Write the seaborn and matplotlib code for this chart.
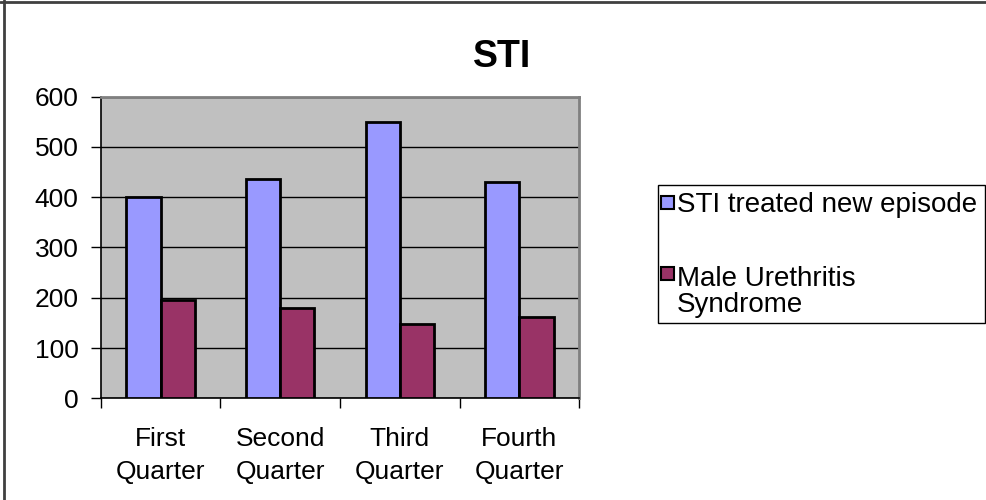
import matplotlib
matplotlib.use("Agg")
import matplotlib.pyplot as plt
import seaborn as sns
import pandas as pd
from matplotlib.patches import Rectangle
from matplotlib.lines import Line2D

# ---- data ----
categories = ["First Quarter", "Second Quarter", "Third Quarter", "Fourth Quarter"]
tick_labels = ["First\nQuarter", "Second\nQuarter", "Third\nQuarter", "Fourth\nQuarter"]
series_names = ["STI treated new episode", "Male Urethritis Syndrome"]
legend_labels = ["STI treated new episode", "Male Urethritis\nSyndrome"]
sti_values = [401, 436, 549, 430]
mus_values = [196, 179, 148, 161]
y_ticks = [0, 100, 200, 300, 400, 500, 600]
title = "STI"
colors = ["#9999FF", "#993366"]

sns.set_theme(style="white")
plt.rcParams["font.family"] = ["Liberation Sans", "DejaVu Sans"]
plt.rcParams["text.color"] = "black"
plt.rcParams["xtick.color"] = "black"
plt.rcParams["ytick.color"] = "black"
plt.rcParams["axes.labelcolor"] = "black"

df = pd.DataFrame({
    "Quarter": categories * 2,
    "Series": [series_names[0]] * len(categories) + [series_names[1]] * len(categories),
    "Value": sti_values + mus_values,
})

W, H = 986, 500
fig = plt.figure(figsize=(W / 100, H / 100), dpi=100)
fig.patch.set_facecolor("white")

L, R, T, B = 100.7, 579.3, 96.7, 398.3
ax = fig.add_axes([L / W, 1 - B / H, (R - L) / W, (B - T) / H])
sns.barplot(data=df, x="Quarter", y="Value", hue="Series", order=categories,
            hue_order=series_names, palette=colors, width=0.57, gap=0,
            edgecolor="black", linewidth=2, saturation=1, errorbar=None,
            legend=False, ax=ax, zorder=3)

ax.set_facecolor("#C0C0C0")
ax.set_xlim(-0.5, len(categories) - 0.5)
ax.set_ylim(y_ticks[0], y_ticks[-1])
ax.set_yticks(y_ticks)
ax.set_yticklabels([str(v) for v in y_ticks], fontsize=19, color="black")
ax.yaxis.grid(True, color="black", linewidth=1)
ax.xaxis.grid(False)
ax.set_axisbelow(True)
ax.set_xlabel("")
ax.set_ylabel("")

for s in ["left", "bottom"]:
    ax.spines[s].set_color("black")
    ax.spines[s].set_linewidth(1.2)
for s in ["top", "right"]:
    ax.spines[s].set_color("#808080")
    ax.spines[s].set_linewidth(2)

ax.tick_params(axis="y", direction="out", length=7, width=1, color="black",
               pad=9, left=True)
ax.set_xticks(range(len(categories)))
ax.set_xticklabels(tick_labels, fontsize=19, linespacing=1.43, color="black")
ax.tick_params(axis="x", which="major", length=0, pad=21)
ax.set_xticks([i - 0.5 for i in range(len(categories) + 1)], minor=True)
ax.tick_params(axis="x", which="minor", direction="out", length=7, width=1,
               color="black", bottom=True)

fig.text(502 / W, 1 - 67 / H, title, ha="center", va="baseline",
         fontsize=27, fontweight="bold", color="black")

# legend (drawn manually to match layout)
fig.patches.append(Rectangle((658 / W, 1 - 323 / H), (985 - 658) / W, (323 - 185) / H,
                             transform=fig.transFigure, fill=False,
                             edgecolor="black", linewidth=1))
sq_tops = [196, 267]
baselines = [211.5, 286]
for i, lab in enumerate(legend_labels):
    fig.patches.append(Rectangle((661 / W, 1 - (sq_tops[i] + 13) / H), 13 / W, 13 / H,
                                 transform=fig.transFigure, facecolor=colors[i],
                                 edgecolor="black", linewidth=1.5))
    for j, line in enumerate(lab.split("\n")):
        fig.text(677 / W, 1 - (baselines[i] + 25.7 * j) / H, line,
                 ha="left", va="baseline", fontsize=20, color="black")

# outer border
fig.lines.append(Line2D([4 / W, 4 / W], [0, 1], transform=fig.transFigure,
                        color="#404040", linewidth=2))
fig.lines.append(Line2D([0, 1], [1 - 1.5 / H, 1 - 1.5 / H], transform=fig.transFigure,
                        color="#404040", linewidth=2))

fig.savefig("out.png", dpi=100)
